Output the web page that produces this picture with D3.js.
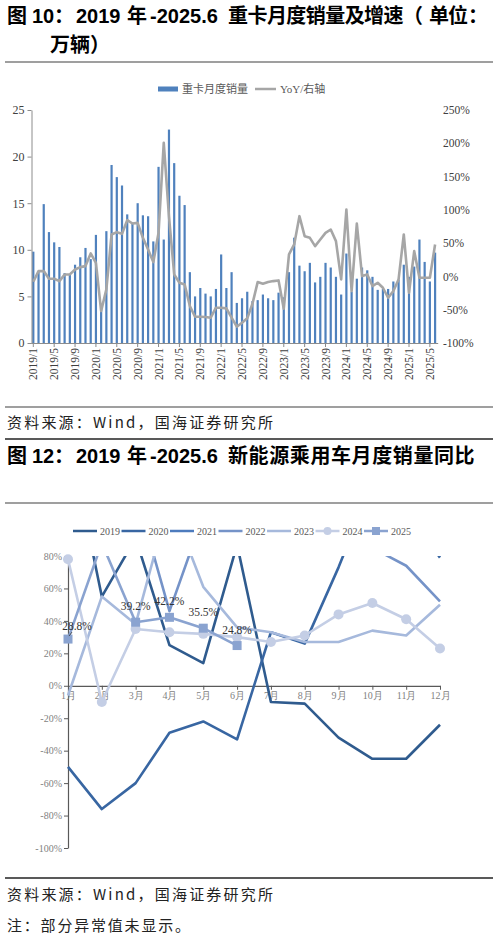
<!DOCTYPE html>
<html>
<head>
<meta charset="utf-8">
<script src="https://cdn.jsdelivr.net/npm/d3@7"></script>
<style>
  body { margin: 0; background: #fff; }
  svg text { font-family: "Liberation Serif", "Noto Sans CJK SC", serif; }
  .cjk { font-family: "Noto Sans CJK SC", sans-serif !important; }
  .ttl { font-family: "Liberation Sans", "Noto Sans CJK SC", sans-serif !important; font-weight: bold; }
</style>
</head>
<body>
<svg id="page" width="498" height="940"></svg>
<script>
// ---------- chart 1 data: heavy truck monthly sales (万辆) & YoY (%) ----------
const years1 = [2019, 2020, 2021, 2022, 2023, 2024, 2025];
const monthCats1 = [];
years1.forEach(function(y) {
    for (let m = 1; m <= 12; m++) {
        if (y === 2025 && m > 6) break;
        monthCats1.push(y + "/" + m);
    }
});
const tickLabels1 = ["2019/1","2019/5","2019/9","2020/1","2020/5","2020/9","2021/1","2021/5","2021/9",
    "2022/1","2022/5","2022/9","2023/1","2023/5","2023/9","2024/1","2024/5","2024/9","2025/1","2025/5"];

const truckSales = [
    9.8, 7.7, 14.9, 11.9, 10.8, 10.3, 7.5, 7.4, 8.4, 9.2, 10.2, 9.0,
    11.6, 3.7, 12.0, 19.1, 17.8, 16.9, 13.8, 12.9, 15.0, 13.7, 13.6, 10.9,
    18.9, 11.1, 22.9, 19.3, 15.8, 14.8, 7.6, 5.0, 5.9, 5.3, 5.0, 5.8,
    9.5, 5.9, 7.6, 4.3, 4.8, 5.5, 4.5, 4.6, 5.2, 4.8, 4.6, 5.4,
    4.9, 7.6, 11.3, 8.3, 7.7, 8.6, 6.5, 7.1, 8.6, 8.1, 7.1, 5.2,
    9.6, 5.5, 6.9, 8.1, 7.8, 7.1, 5.7, 5.8, 5.8, 6.6, 6.8, 8.4,
    7.1, 8.2, 11.1, 8.7, 6.6, 9.7
];
const truckYoY = [
    -8, 8, 8, -3.5, -3.5, -7, 3, 3, 10.5, 14, 15.5, 34.5,
    20.5, -52, -19.5, 63, 66.5, 64, 84.5, 79.5, 80.5, 58, 40.5, 21.5,
    65.5, 200.7, 90, 3, -9.5, -12, -44.5, -60.5, -60.5, -61, -62, -47,
    -47, -48, -62, -75.5, -69.5, -63, -41, -8.5, -11, -8.5, -7, -6,
    -48.5, 33, 48, 90.5, 60.5, 58, 45.5, 55.5, 65.5, 70.5, 53, -4.5,
    100.5, -22, 79.5, 0.5, 3, -14.5, -9.5, -17, -32, -22, -4.5, 63,
    -24.5, 38, -2, -2, -2, 48
];
const leftTicks1 = [0, 5, 10, 15, 20, 25];
const rightTicks1 = [-100, -50, 0, 50, 100, 150, 200, 250];

// ---------- chart 2 data: NEV passenger car monthly sales YoY (%) ----------
const months2 = ["1月","2月","3月","4月","5月","6月","7月","8月","9月","10月","11月","12月"];
const seriesNames2 = ["2019", "2020", "2021", "2022", "2023", "2024", "2025"];
const yoy2019 = [156, 55, 91, 25, 14, 87, -10, -11, -32, -45, -45, -24];
const yoy2020 = [-50, -76, -60, -29, -22, -33, 33, 26, 73, 125, 108, 79];
const yoy2021 = [285, 585, 240, 185, 160, 140, 170, 180, 150, 130, 120, 110];
const yoy2022 = [135, 185, 120, 46, 105, 131, 117, 108, 94, 85, 74, 52];
const yoy2023 = [-6, 55, 38, 115, 61, 36, 33, 27, 27, 34, 31, 50];
const yoy2024 = [78, -10, 35, 33, 32, 30, 27, 31, 44, 51, 41, 23];
const yoy2025 = [28.8, 88, 39.2, 42.2, 35.5, 24.8];
const yTicks2 = [-100, -80, -60, -40, -20, 0, 20, 40, 60, 80];

const svg = d3.select("#page");

// ---------- titles, rules, notes ----------
function rule(y, color, w) {
    svg.append("line").attr("x1", 5).attr("x2", 493).attr("y1", y).attr("y2", y)
        .attr("stroke", color).attr("stroke-width", w);
}
// title pieces placed where the reference puts them
function title(y, num, rest, restSpacing) {
    var t = svg.append("text").attr("class", "ttl").attr("y", y)
        .attr("font-size", 20).attr("fill", "#000");
    t.append("tspan").attr("x", 7).text("图");
    t.append("tspan").attr("x", 32).text(num);
    t.append("tspan").attr("x", 54).text("：");
    t.append("tspan").attr("x", 76).text("2019");
    t.append("tspan").attr("x", 127).text("年");
    t.append("tspan").attr("x", 150).text("-2025.6");
    t.append("tspan").attr("x", 228).attr("letter-spacing", restSpacing).text(rest);
    return t;
}
var t1 = title(23, "10", "重卡月度销量及增速", -0.56);
t1.append("tspan").attr("x", 403).attr("letter-spacing", 0).text("（");
t1.append("tspan").attr("x", 429).attr("letter-spacing", -1).text("单位");
t1.append("tspan").attr("x", 468).attr("letter-spacing", 0).text("：");
svg.append("text").attr("class", "ttl").attr("x", 50).attr("y", 52)
    .attr("font-size", 20).attr("fill", "#000").text("万辆）");
rule(62, "#7f7f7f", 1.5);
rule(407, "#7f7f7f", 1.5);
svg.append("text").attr("class", "cjk").attr("x", 7).attr("y", 428)
    .attr("font-size", 15).attr("letter-spacing", 2.2).attr("fill", "#222")
    .text("资料来源：Wind，国海证券研究所");
rule(439, "#222", 1.3);
title(463, "12", "新能源乘用车月度销量同比", 0.6);
rule(503, "#7f7f7f", 1.5);
rule(878, "#222", 1.3);
svg.append("text").attr("class", "cjk").attr("x", 7).attr("y", 900)
    .attr("font-size", 15).attr("letter-spacing", 2.2).attr("fill", "#222")
    .text("资料来源：Wind，国海证券研究所");
svg.append("text").attr("class", "cjk").attr("x", 7).attr("y", 931)
    .attr("font-size", 15).attr("letter-spacing", 1.8).attr("fill", "#222")
    .text("注：部分异常值未显示。");

// ---------- chart 1 ----------
const barColor = "#4f81bd";
const yoyColor = "#a6a6a6";

var x1 = d3.scaleBand().domain(monthCats1).range([30.7, 437.7]);
var yL = d3.scaleLinear().domain([0, 25]).range([343, 110]);
var yR = d3.scaleLinear().domain([-100, 250]).range([343, 110]);

var g1 = svg.append("g");

// legend
g1.append("rect").attr("x", 158).attr("y", 86.5).attr("width", 20).attr("height", 5).attr("fill", barColor);
g1.append("text").attr("x", 182).attr("y", 93).attr("font-size", 11).attr("fill", "#595959").text("重卡月度销量");
g1.append("line").attr("x1", 255).attr("x2", 276).attr("y1", 89).attr("y2", 89)
    .attr("stroke", yoyColor).attr("stroke-width", 2.5);
g1.append("text").attr("x", 280).attr("y", 93).attr("font-size", 11).attr("fill", "#595959").text("YoY/右轴");

// bars
g1.selectAll("rect.bar")
    .data(truckSales)
    .enter()
    .append("rect")
    .attr("class", "bar")
    .attr("x", function(d, i) { return x1(monthCats1[i]) + x1.bandwidth() / 2 - 1.1; })
    .attr("width", 2.2)
    .attr("y", function(d) { return yL(d); })
    .attr("height", function(d) { return yL(0) - yL(d); })
    .attr("fill", barColor);

// axes
var axL = g1.append("g").attr("transform", "translate(31.5,0)")
    .call(d3.axisLeft(yL).tickValues(leftTicks1).tickSize(4).tickSizeOuter(0).tickPadding(3));
axL.select(".domain").attr("stroke", "#8c8c8c");
axL.selectAll(".tick line").attr("stroke", "#8c8c8c");
axL.selectAll("text").attr("font-size", 12).attr("fill", "#404040")
    .style("font-family", "Liberation Serif");

var axR = g1.append("g").attr("transform", "translate(440,0)")
    .call(d3.axisRight(yR).tickValues(rightTicks1).tickSize(0).tickPadding(3)
        .tickFormat(function(d) { return d + "%"; }));
axR.select(".domain").remove();
axR.selectAll("text").attr("font-size", 11.5).attr("fill", "#404040")
    .style("font-family", "Liberation Serif");

var axB = g1.append("g").attr("transform", "translate(0,343)")
    .call(d3.axisBottom(x1).tickValues(tickLabels1).tickSize(4).tickSizeOuter(0));
axB.select(".domain").attr("stroke", "#8c8c8c");
axB.selectAll(".tick line").attr("stroke", "#8c8c8c");
axB.selectAll("text")
    .attr("font-size", 11.5).attr("fill", "#404040")
    .style("font-family", "Liberation Serif")
    .attr("x", -5).attr("y", 0).attr("dy", "0.35em")
    .attr("transform", "rotate(-90)")
    .style("text-anchor", "end");

// yoy line
var yoyLine = d3.line()
    .x(function(d, i) { return x1(monthCats1[i]) + x1.bandwidth() / 2; })
    .y(function(d) { return yR(d); });
g1.append("path").datum(truckYoY)
    .attr("d", yoyLine)
    .attr("fill", "none")
    .attr("stroke", yoyColor)
    .attr("stroke-width", 2.6)
    .attr("stroke-linejoin", "round");

// ---------- chart 2 ----------
const colors2 = ["#2f5b8e", "#3866a2", "#4d7bbd", "#7593c8", "#a6b9dc", "#c4cee5", "#8aa3d0"];
const data2 = [yoy2019, yoy2020, yoy2021, yoy2022, yoy2023, yoy2024, yoy2025];

var x2 = d3.scalePoint().domain(months2).range([68, 440]);
var y2 = d3.scaleLinear().domain([-100, 80]).range([848, 556]);

var g2 = svg.append("g");

// legend
var leg2 = g2.selectAll("g.leg").data(seriesNames2).enter().append("g")
    .attr("transform", function(d, i) { return "translate(" + (73 + i * 48.5) + ",531)"; });
leg2.append("line").attr("x1", 0).attr("x2", 24).attr("y1", 0).attr("y2", 0)
    .attr("stroke", function(d, i) { return colors2[i]; }).attr("stroke-width", 2.5);
leg2.filter(function(d) { return d === "2024"; }).append("circle")
    .attr("cx", 12).attr("cy", 0).attr("r", 4).attr("fill", colors2[5]);
leg2.filter(function(d) { return d === "2025"; }).append("rect")
    .attr("x", 8).attr("y", -4).attr("width", 8).attr("height", 8).attr("fill", colors2[6]);
leg2.append("text").attr("x", 27).attr("y", 3.5).attr("font-size", 10).attr("fill", "#595959")
    .text(function(d) { return d; });

// axes
var ax2L = g2.append("g").attr("transform", "translate(68,0)")
    .call(d3.axisLeft(y2).tickValues(yTicks2).tickSize(4).tickSizeOuter(0).tickPadding(2)
        .tickFormat(function(d) { return d + "%"; }));
ax2L.select(".domain").attr("stroke", "#595959").attr("stroke-width", 1.2);
ax2L.selectAll(".tick line").attr("stroke", "#595959");
ax2L.selectAll("text").attr("font-size", 10).attr("fill", "#7f7f7f")
    .style("font-family", "Liberation Serif");

var ax2B = g2.append("g").attr("transform", "translate(0," + y2(0) + ")")
    .call(d3.axisBottom(x2).tickSize(4).tickSizeOuter(0).tickPadding(2));
ax2B.select(".domain").attr("stroke", "#595959").attr("stroke-width", 1.2);
ax2B.selectAll(".tick line").attr("stroke", "#595959");
ax2B.selectAll("text").attr("font-size", 10).attr("fill", "#7f7f7f")
    .style("font-family", "Liberation Serif");

// clip: values above 80% are not shown
g2.append("clipPath").attr("id", "clip2")
    .append("rect").attr("x", 55).attr("y", y2(80)).attr("width", 400).attr("height", y2(-100) - y2(80) + 10);

var line2 = d3.line()
    .x(function(d, i) { return x2(months2[i]); })
    .y(function(d) { return y2(d); });

g2.append("g").attr("clip-path", "url(#clip2)")
    .selectAll("path")
    .data(data2)
    .enter()
    .append("path")
    .attr("d", line2)
    .attr("fill", "none")
    .attr("stroke", function(d, i) { return colors2[i]; })
    .attr("stroke-width", 2.6)
    .attr("stroke-linejoin", "round");

// markers 2024 (circles)
g2.selectAll("circle.m24")
    .data(yoy2024)
    .enter()
    .append("circle")
    .attr("class", "m24")
    .attr("cx", function(d, i) { return x2(months2[i]); })
    .attr("cy", function(d) { return y2(d); })
    .attr("r", 5)
    .attr("fill", colors2[5]);

// markers 2025 (squares) + labels
var pts25 = yoy2025.map(function(d, i) { return { m: months2[i], v: d }; })
    .filter(function(p) { return p.v <= 80; });
g2.selectAll("rect.m25")
    .data(pts25)
    .enter()
    .append("rect")
    .attr("class", "m25")
    .attr("x", function(p) { return x2(p.m) - 4.5; })
    .attr("y", function(p) { return y2(p.v) - 4.5; })
    .attr("width", 9).attr("height", 9)
    .attr("fill", colors2[6]);

g2.selectAll("text.lab25")
    .data(pts25)
    .enter()
    .append("text")
    .attr("class", "lab25")
    .attr("x", function(p, i) { return x2(p.m) + (i === 0 ? 9 : 0); })
    .attr("y", function(p, i) { return y2(p.v) - (i === 0 ? 9 : 12); })
    .attr("text-anchor", "middle")
    .attr("font-size", 11.5)
    .attr("fill", "#333")
    .text(function(p) { return p.v.toFixed(1) + "%"; });

// leader for first label
g2.append("line")
    .attr("x1", x2(months2[0]) + 1).attr("y1", y2(yoy2025[0]) - 3)
    .attr("x2", x2(months2[0]) + 4).attr("y2", y2(yoy2025[0]) - 7)
    .attr("stroke", "#333").attr("stroke-width", 0.8);
</script>
</body>
</html>
